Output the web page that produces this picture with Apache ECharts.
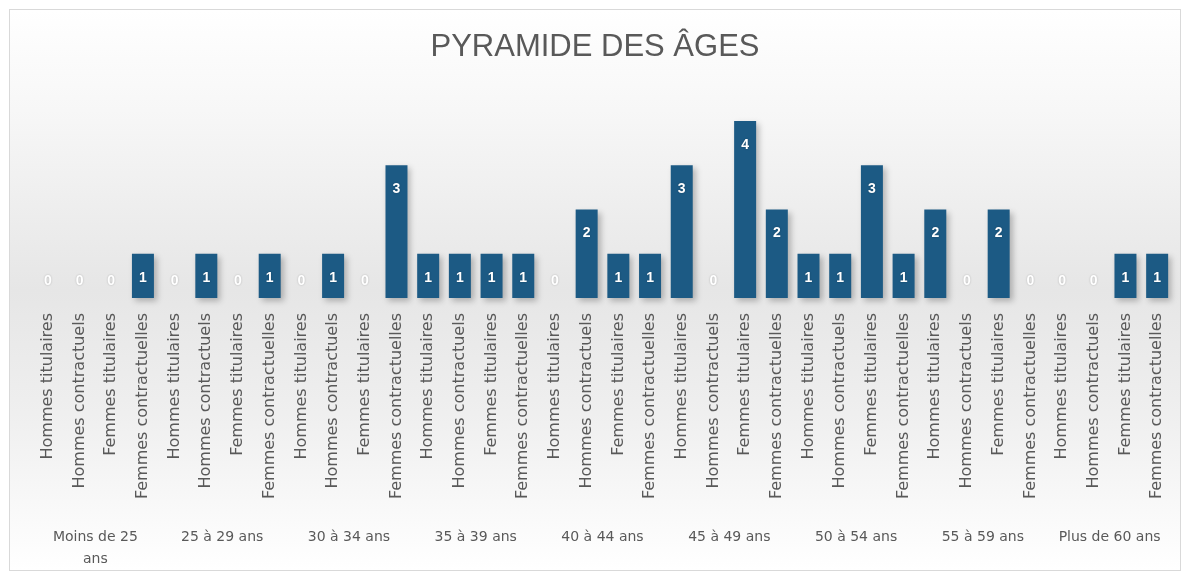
<!DOCTYPE html>
<html>
<head>
<meta charset="utf-8">
<script src="https://cdn.jsdelivr.net/npm/echarts@6/dist/echarts.min.js"></script>
<style>
    body { margin: 0; background: #ffffff; }
    .frame {
        position: absolute; left: 9px; top: 9px; width: 1170px; height: 560px;
        border: 1px solid #d9d9d9;
        background: linear-gradient(to bottom, #ffffff 0%, #f6f6f6 20%, #e6e6e6 50%, #efefef 72%, #ffffff 100%);
    }
    #chart { position: absolute; left: 0; top: 0; width: 1190px; height: 576px; }
</style>
</head>
<body>
<div class="frame"></div>
<div id="chart"></div>
<script>
// groupes d'âge (second niveau de l'axe)
var ageGroups = ['Moins de 25\nans', '25 à 29 ans', '30 à 34 ans', '35 à 39 ans', '40 à 44 ans',
    '45 à 49 ans', '50 à 54 ans', '55 à 59 ans', 'Plus de 60 ans'];
// sous-catégories répétées dans chaque groupe
var statuts = ['Hommes titulaires', 'Hommes contractuels', 'Femmes titulaires', 'Femmes contractuelles'];
// effectifs, 4 valeurs par groupe d'âge
var effectifs = [
    0, 0, 0, 1,
    0, 1, 0, 1,
    0, 1, 0, 3,
    1, 1, 1, 1,
    0, 2, 1, 1,
    3, 0, 4, 2,
    1, 1, 3, 1,
    2, 0, 2, 0,
    0, 0, 1, 1
];

var categories = [];
ageGroups.forEach(function () {
    statuts.forEach(function (s) { categories.push(s); });
});

var barData = effectifs.map(function (v) {
    if (v === 0) {
        return { value: v, label: { position: 'top', distance: 10 } };
    }
    return v;
});

var chart = echarts.init(document.getElementById('chart'), null, { renderer: 'canvas' });
chart.setOption({
    backgroundColor: 'transparent',
    animation: false,
    title: {
        text: 'PYRAMIDE DES ÂGES',
        left: 'center',
        top: 27,
        textStyle: {
            color: '#595959',
            fontSize: 31,
            fontWeight: 'normal',
            fontFamily: 'Liberation Sans'
        }
    },
    grid: { left: 32, right: 17, top: 121, bottom: 278 },
    xAxis: [
        {
            type: 'category',
            data: categories,
            axisLine: { show: false },
            axisTick: { show: false },
            axisLabel: {
                interval: 0,
                rotate: 90,
                margin: 15,
                color: '#595959',
                fontSize: 16,
                fontFamily: 'DejaVu Sans'
            }
        },
        {
            type: 'category',
            data: ageGroups,
            position: 'bottom',
            axisLine: { show: false },
            axisTick: { show: false },
            axisLabel: {
                interval: 0,
                margin: 228,
                color: '#595959',
                fontSize: 14,
                lineHeight: 22,
                fontFamily: 'DejaVu Sans'
            }
        }
    ],
    yAxis: {
        type: 'value',
        min: 0,
        max: 4,
        show: false,
        splitLine: { show: false }
    },
    series: [{
        type: 'bar',
        data: barData,
        barWidth: 22,
        itemStyle: {
            color: '#1c5a84',
            shadowColor: 'rgba(0,0,0,0.25)',
            shadowBlur: 6,
            shadowOffsetX: 3,
            shadowOffsetY: 3
        },
        label: {
            show: true,
            position: 'insideTop',
            distance: 17,
            color: '#ffffff',
            fontWeight: 'bold',
            fontSize: 14,
            fontFamily: 'Liberation Sans',
            textShadowColor: 'rgba(0,0,0,0.25)',
            textShadowBlur: 2
        }
    }]
});
</script>
</body>
</html>
